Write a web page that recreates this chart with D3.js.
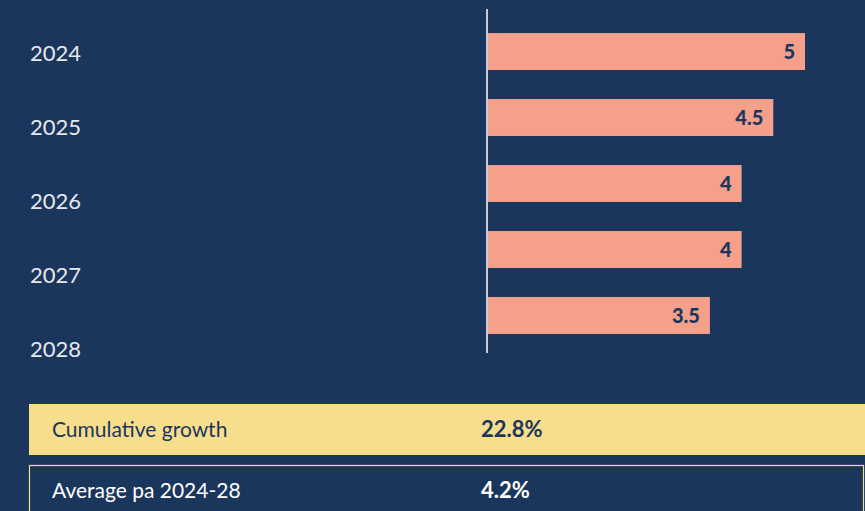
<!DOCTYPE html>
<html><head><meta charset="utf-8">
<script src="https://cdn.jsdelivr.net/npm/d3@7"></script>
<style>
html,body{margin:0;padding:0;background:#1b365d;}
svg{display:block;}
</style></head>
<body>
<script>
const years = ["2024","2025","2026","2027","2028"];
const growth = [5, 4.5, 4, 4, 3.5];
const summaryLabels = ["Cumulative growth", "Average pa 2024-28"];
const summaryValues = ["22.8%", "4.2%"];

const W = 865, H = 511;
const bg = "#1b365d", barColor = "#f4a08b", yellow = "#f7de8c";
const svg = d3.select("body").append("svg").attr("width", W).attr("height", H);
svg.append("rect").attr("width", W).attr("height", H).attr("fill", bg);

const x = d3.scaleLinear().domain([0, 5]).range([488, 805]);
const yBar = d3.scaleBand().domain(years).range([17.2, 349.8]).paddingInner(0.44).paddingOuter(0.24);
const yLab = d3.scaleBand().domain(years).range([14, 384]);

svg.append("g").selectAll("rect").data(years).join("rect")
  .attr("x", x(0)).attr("y", d => yBar(d))
  .attr("width", (d,i) => x(growth[i]) - x(0))
  .attr("height", yBar.bandwidth())
  .attr("fill", barColor);

svg.append("line").attr("x1", 487).attr("x2", 487).attr("y1", 9).attr("y2", 353)
  .attr("stroke", "#c8ccd4").attr("stroke-width", 2);

svg.append("g").selectAll("text").data(years).join("text")
  .attr("x", (d,i) => x(growth[i]) - 10)
  .attr("y", d => yBar(d) + yBar.bandwidth()/2 + 7.5)
  .attr("text-anchor", "end")
  .attr("font-family", "Lato, sans-serif")
  .attr("font-weight", "900").attr("font-size", 20)
  .attr("fill", bg)
  .text((d,i) => growth[i]);

svg.append("g").selectAll("text").data(years).join("text")
  .attr("x", 30).attr("y", d => yLab(d) + yLab.bandwidth()/2 + 10)
  .attr("font-family", "Lato, 'Noto Sans', sans-serif")
  .attr("font-size", 22).attr("fill", "#e6e8ee")
  .text(d => d);

// summary table
const rowY = [404, 465], rowH = [51, 50];
summaryLabels.forEach((lab, i) => {
  const g = svg.append("g");
  if (i === 0) {
    g.append("rect").attr("x", 29).attr("y", rowY[i]).attr("width", W - 29).attr("height", rowH[i]).attr("fill", yellow);
  } else {
    g.append("rect").attr("x", 29.5).attr("y", rowY[i] + 0.5).attr("width", W - 31).attr("height", rowH[i]).attr("fill", "none").attr("stroke", yellow).attr("stroke-width", 1.2);
  }
  const col = i === 0 ? bg : "#ffffff";
  g.append("text").attr("x", 52).attr("y", rowY[i] + 33)
    .attr("font-family", "Lato, sans-serif").attr("font-size", 21)
    .attr("fill", col).text(lab);
  g.append("text").attr("x", 481).attr("y", rowY[i] + 33)
    .attr("font-family", "Lato, sans-serif").attr("font-weight", "bold").attr("font-size", 22)
    .attr("fill", col).text(summaryValues[i]);
});
</script>
</body></html>
